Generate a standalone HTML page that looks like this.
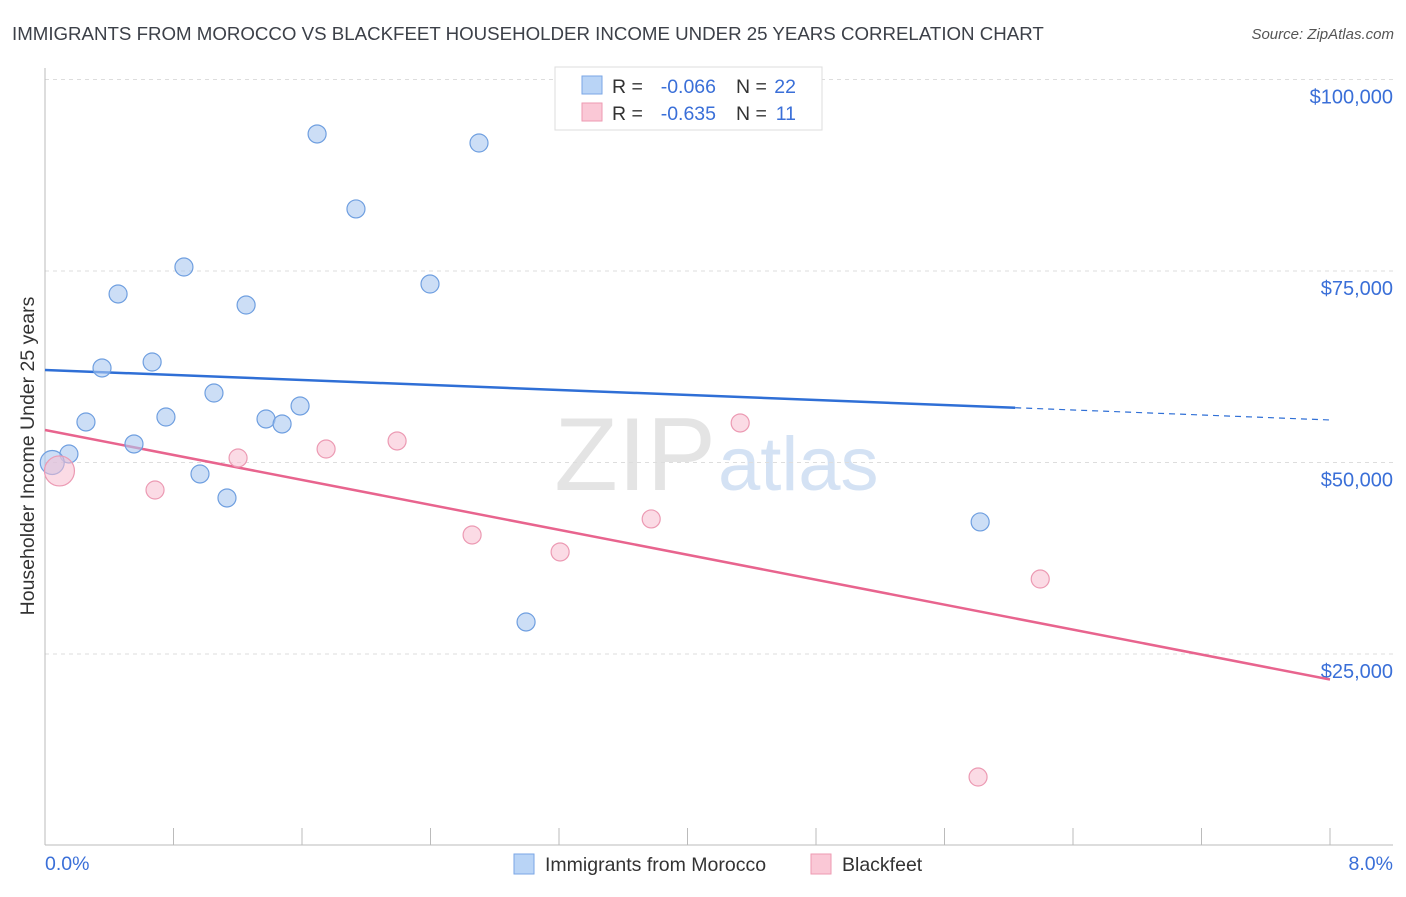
<!DOCTYPE html>
<html><head><meta charset="utf-8"><style>
body{margin:0;background:#fff;font-family:"Liberation Sans",sans-serif}
svg text{font-family:"Liberation Sans",sans-serif}
</style></head><body>
<svg id="chart" width="1406" height="892" xmlns="http://www.w3.org/2000/svg">
<text x="12" y="40" font-size="18.7" fill="#3c4048">IMMIGRANTS FROM MOROCCO VS BLACKFEET HOUSEHOLDER INCOME UNDER 25 YEARS CORRELATION CHART</text>
<text x="1394" y="39" font-size="15" fill="#555" text-anchor="end" font-style="italic">Source: ZipAtlas.com</text>
<text x="716" y="490" font-size="104" fill="#e4e4e4" text-anchor="end" font-family="Liberation Serif">ZIP</text>
<text x="718" y="490" font-size="76" fill="#d4e2f4">atlas</text>
<g id="grid"></g>
<line x1="45" y1="68" x2="45" y2="845" stroke="#bbb"/>
<line x1="45" y1="845" x2="1393" y2="845" stroke="#bbb"/>
<g id="xticks"></g>
<text x="45" y="870" font-size="19.5" fill="#3a6fd8">0.0%</text>
<text x="1393" y="870" font-size="19.5" fill="#3a6fd8" text-anchor="end">8.0%</text>
<text transform="translate(34,456) rotate(-90)" font-size="19.5" fill="#333" text-anchor="middle">Householder Income Under 25 years</text>
<g id="lines"></g>
<g id="points"></g>
<g>
<rect x="555" y="67" width="267" height="63" fill="#fff" stroke="#ddd"/>
<rect x="582" y="76" width="20" height="18" fill="#b9d4f6" stroke="#7aa6e6"/>
<text x="612" y="93" font-size="19.5" fill="#333">R =</text>
<text x="716" y="93" font-size="19.5" fill="#3a6fd8" text-anchor="end">-0.066</text>
<text x="736" y="93" font-size="19.5" fill="#333">N =</text>
<text x="796" y="93" font-size="19.5" fill="#3a6fd8" text-anchor="end">22</text>
<rect x="582" y="103" width="20" height="18" fill="#fac8d6" stroke="#ee9ab2"/>
<text x="612" y="120" font-size="19.5" fill="#333">R =</text>
<text x="716" y="120" font-size="19.5" fill="#3a6fd8" text-anchor="end">-0.635</text>
<text x="736" y="120" font-size="19.5" fill="#333">N =</text>
<text x="796" y="120" font-size="19.5" fill="#3a6fd8" text-anchor="end">11</text>
</g>
<g>
<rect x="514" y="854" width="20" height="20" fill="#b9d4f6" stroke="#7aa6e6"/>
<text x="545" y="871" font-size="19.5" fill="#333">Immigrants from Morocco</text>
<rect x="811" y="854" width="20" height="20" fill="#fac8d6" stroke="#ee9ab2"/>
<text x="842" y="871" font-size="19.5" fill="#333">Blackfeet</text>
</g>
</svg>
<script>
const yTicks=[25000,50000,75000,100000];
const yTickLabels=["$25,000","$50,000","$75,000","$100,000"];
const blueX=[0.149,0.255,0.355,0.455,0.554,0.667,0.753,0.865,0.965,1.052,1.133,1.252,1.376,1.476,1.588,1.694,1.936,2.397,2.702,2.995,5.822,0.045];
const blueY=[51110,55290,62340,72000,52420,63120,55940,75520,48500,59070,45370,70560,55680,55030,57380,92890,83100,73300,91710,29180,42240,50000];
const blueR=[9,9,9,9,9,9,9,9,9,9,9,9,9,9,9,9,9,9,9,9,9,12];
const pinkX=[0.09,0.685,1.202,1.75,2.192,2.659,3.207,3.774,4.328,6.196,5.809];
const pinkY=[48900,46410,50590,51760,52810,40540,38320,42630,55160,34790,8940];
const pinkR=[15,9,9,9,9,9,9,9,9,9,9];
const blueTrend=[62080,55550], blueSolidEnd=6.04;
const pinkTrend=[54240,21670];
const X=p=>45+p*160.625, Y=v=>845.5-v*191.5/25000;
const NS="http://www.w3.org/2000/svg";
function mk(parent,tag,attrs){const e=document.createElementNS(NS,tag);for(const k in attrs)e.setAttribute(k,attrs[k]);document.getElementById(parent).appendChild(e);return e;}
yTicks.forEach((t,i)=>{
 const l=mk('grid','line',{x1:45,x2:1393,y1:Y(t),y2:Y(t),stroke:'#ddd','stroke-dasharray':'4,4'});
 
 
 const tx=mk('grid','text',{x:1393,y:Y(t)+24,'font-size':20,fill:'#3a6fd8','text-anchor':'end'});
 tx.textContent=yTickLabels[i];
 
 
});
for(let i=1;i<=10;i++){const l=mk('xticks','line',{x1:X(i*0.8),x2:X(i*0.8),y1:828,y2:845,stroke:'#bbb'});
 
 }
const bEnd=blueTrend[0]+(blueTrend[1]-blueTrend[0])*blueSolidEnd/8;
let l=mk('lines','line',{x1:X(0),y1:Y(blueTrend[0]),x2:X(blueSolidEnd),y2:Y(bEnd),stroke:'#2f6fd6','stroke-width':2.5});


l=mk('lines','line',{x1:X(blueSolidEnd),y1:Y(bEnd),x2:X(8),y2:Y(blueTrend[1]),stroke:'#2f6fd6','stroke-width':1.2,'stroke-dasharray':'6,5'});


l=mk('lines','line',{x1:X(0),y1:Y(pinkTrend[0]),x2:X(8),y2:Y(pinkTrend[1]),stroke:'#e8648e','stroke-width':2.5});


blueX.forEach((x,i)=>{const c=mk('points','circle',{cx:X(x),cy:Y(blueY[i]),r:blueR[i],fill:'rgba(170,200,240,0.6)',stroke:'#6f9fe0','stroke-width':1.2});
 
 });
pinkX.forEach((x,i)=>{const c=mk('points','circle',{cx:X(x),cy:Y(pinkY[i]),r:pinkR[i],fill:'rgba(248,190,208,0.55)',stroke:'#ec9ab3','stroke-width':1.2});
 
 });
</script>
</body></html>
